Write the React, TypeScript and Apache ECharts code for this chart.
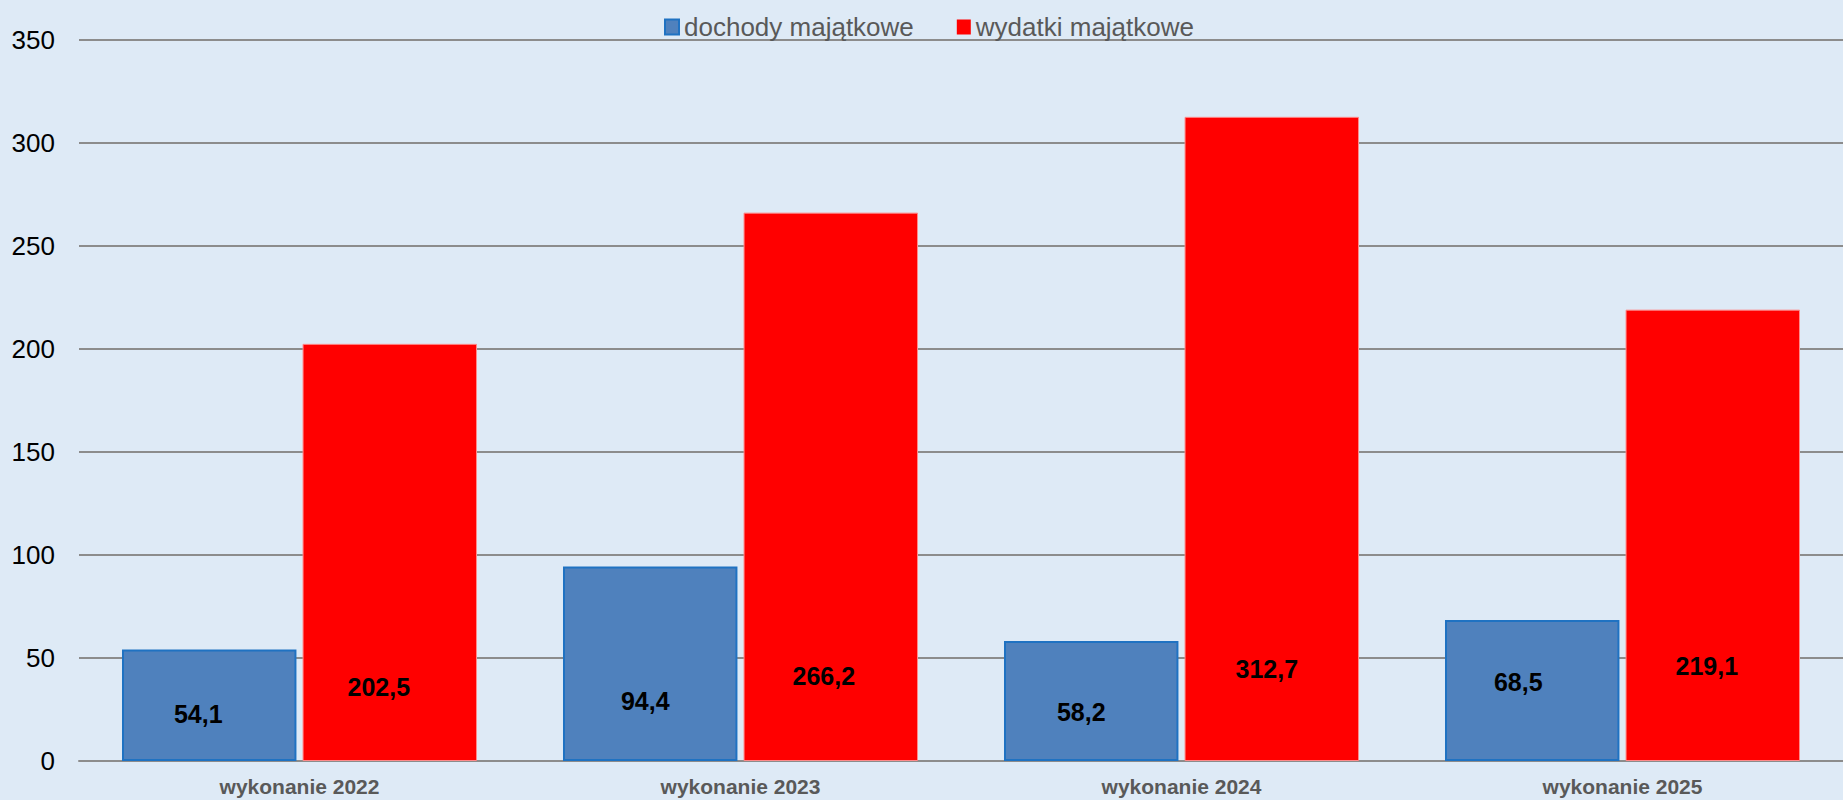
import React, { useEffect, useRef } from "react";
import * as echarts from "echarts";

const categories = ["wykonanie 2022", "wykonanie 2023", "wykonanie 2024", "wykonanie 2025"];
const seriesNames = ["dochody majątkowe", "wydatki majątkowe"];
const dochody = [54.1, 94.4, 58.2, 68.5];
const wydatki = [202.5, 266.2, 312.7, 219.1];
const yTicks = { min: 0, max: 350, interval: 50 };

// label placement styling (manually placed labels in the original)
const dochodyLabelLift = [35, 48, 37, 67];
const dochodyLabelShift = [-11, -5, -10, -14];
const wydatkiLabelLift = [62, 73, 80, 83];
const wydatkiLabelShift = [-11, -7, -5, -6];

const FONT = "'Liberation Sans', Arial, sans-serif";
const fmt = (v: number) => v.toFixed(1).replace(".", ",");

function buildData(values: number[], lift: number[], shift: number[]) {
  return values.map((v, i) => ({
    value: v,
    label: { distance: lift[i], offset: [shift[i], 0] },
  }));
}

export default function App() {
  const ref = useRef<HTMLDivElement>(null);
  useEffect(() => {
    if (!ref.current) return;
    const chart = echarts.init(ref.current, undefined, { renderer: "svg" });
    const labelStyle = {
      show: true,
      position: "insideBottom",
      fontFamily: FONT,
      fontSize: 25,
      fontWeight: "bold",
      color: "#000000",
      formatter: (p: any) => fmt(p.value),
    };
    chart.setOption({
      animation: false,
      backgroundColor: "#DEEAF6",
      textStyle: { fontFamily: FONT },
      legend: {
        left: 659,
        top: 9,
        icon: "rect",
        itemWidth: 14,
        itemHeight: 15,
        itemGap: 43,
        textStyle: { fontFamily: FONT, fontSize: 26, color: "#595959" },
        data: [
          { name: seriesNames[0] },
          { name: seriesNames[1], itemStyle: { borderWidth: 0 } },
        ],
      },
      grid: { left: 79, right: 0, top: 40, bottom: 39 },
      xAxis: {
        type: "category",
        data: categories,
        axisTick: { show: false },
        axisLine: { lineStyle: { color: "#8c8c8c", width: 2 } },
        axisLabel: {
          fontFamily: FONT,
          fontSize: 21,
          fontWeight: "bold",
          color: "#595959",
          margin: 15,
        },
      },
      yAxis: {
        type: "value",
        min: yTicks.min,
        max: yTicks.max,
        interval: yTicks.interval,
        axisLine: { show: false },
        axisTick: { show: false },
        axisLabel: { fontFamily: FONT, fontSize: 26, color: "#000000", margin: 24 },
        splitLine: { lineStyle: { color: "#8c8c8c", width: 2 } },
      },
      series: [
        {
          name: seriesNames[0],
          type: "bar",
          barGap: "3.5%",
          barCategoryGap: "19.5%",
          itemStyle: { color: "#4F81BD", borderColor: "#1F72C2", borderWidth: 2 },
          label: labelStyle,
          data: buildData(dochody, dochodyLabelLift, dochodyLabelShift),
        },
        {
          name: seriesNames[1],
          type: "bar",
          barGap: "3.5%",
          barCategoryGap: "19.5%",
          itemStyle: { color: "#FF0000", borderColor: "#FF8A8A", borderWidth: 1 },
          label: labelStyle,
          data: buildData(wydatki, wydatkiLabelLift, wydatkiLabelShift),
        },
      ],
    });
    return () => chart.dispose();
  }, []);
  return (
    <div
      ref={ref}
      style={{ position: "fixed", left: 0, top: 0, width: 1843, height: 800 }}
    />
  );
}
